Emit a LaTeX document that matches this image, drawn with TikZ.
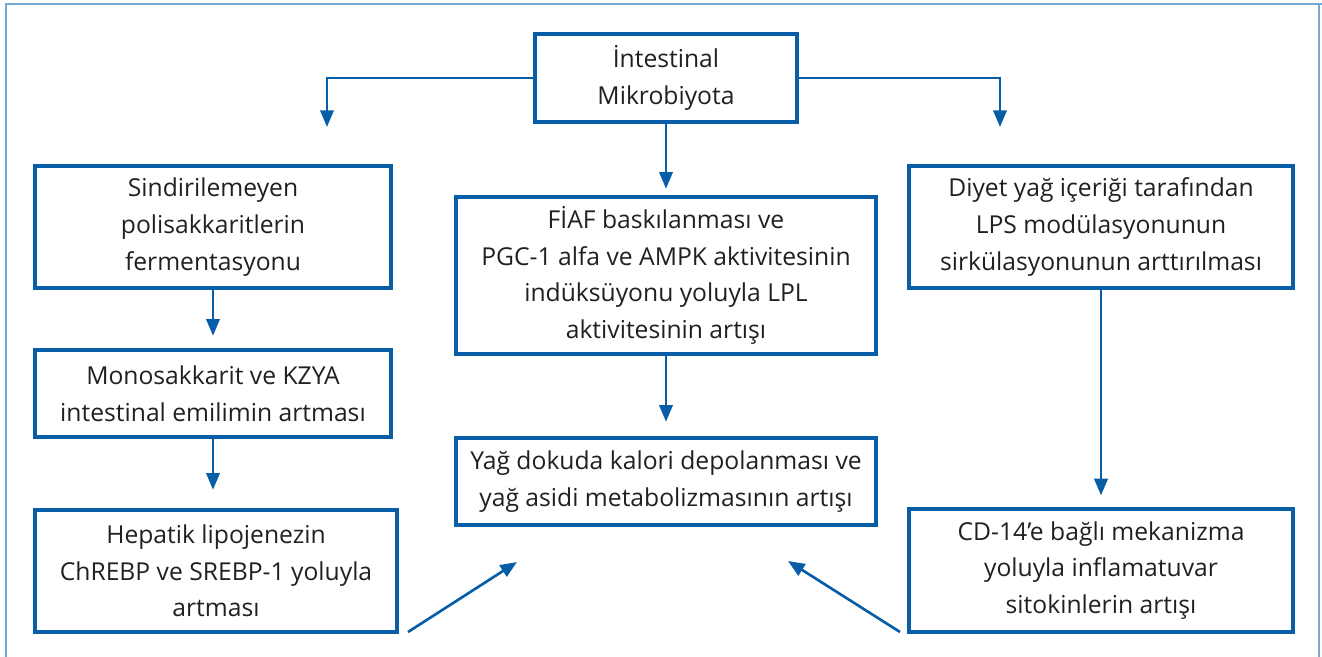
\documentclass[tikz,border=0pt]{standalone}
\usepackage{fontspec}
\setmainfont{Open Sans}
\usetikzlibrary{arrows.meta}
\definecolor{mainblue}{RGB}{8,94,166}
\definecolor{frameblue}{RGB}{120,168,214}
\definecolor{txt}{RGB}{35,31,32}
\begin{document}
\begin{tikzpicture}[x=0.75pt,y=-0.75pt,
  box/.style={draw=mainblue,line width=2.4pt,align=center,text=txt,
    font=\fontsize{18.5}{27.5}\selectfont,inner sep=0pt},
  conn/.style={draw=mainblue,line width=2pt,-{Triangle[length=12.5pt,width=10pt]}}]
\useasboundingbox (0,0) rectangle (1322,657);
% frame
\draw[frameblue,line width=1.2pt] (6,657) -- (6,4) -- (1322,4);
\draw[frameblue,line width=1.2pt] (1319,4) -- (1319,657);
% boxes
\node[box,minimum width=196.5pt,minimum height=66pt] (top) at (666,78) {İntestinal\\Mikrobiyota};
\node[box,minimum width=267pt,minimum height=91.5pt] (l1) at (213,227) {Sindirilemeyen\\polisakkaritlerin\\fermentasyonu};
\node[box,minimum width=267pt,minimum height=65.25pt] (l2) at (213,393.5) {Monosakkarit ve KZYA\\intestinal emilimin artması};
\node[box,minimum width=271.5pt,minimum height=91.5pt] (l3) at (216,571) {Hepatik lipojenezin\\ChREBP ve SREBP-1 yoluyla\\artması};
\node[box,minimum width=315pt,minimum height=117.75pt] (m1) at (666,275.5) {FİAF baskılanması ve\\PGC-1 alfa ve AMPK aktivitesinin\\indüksüyonu yoluyla LPL\\aktivitesinin artışı};
\node[box,minimum width=315pt,minimum height=65.25pt] (m2) at (666,481.5) {Yağ dokuda kalori depolanması ve\\yağ asidi metabolizmasının artışı};
\node[box,minimum width=288pt,minimum height=91.5pt] (r1) at (1101,227) {Diyet yağ içeriği tarafından\\LPS modülasyonunun\\sirkülasyonunun arttırılması};
\node[box,minimum width=288pt,minimum height=92.25pt] (r2) at (1101,570.5) {CD-14’e bağlı mekanizma\\yoluyla inflamatuvar\\sitokinlerin artışı};
% free ends
\coordinate (tl) at (327,127);
\coordinate (tr) at (1000,127);
\coordinate (dls) at (408,632);
\coordinate (dle) at (517,562);
\coordinate (drs) at (900,632);
\coordinate (dre) at (788,561);
% connectors
\draw[conn] (top.west) -| (tl);
\draw[conn] (top.east) -| (tr);
\draw[conn,shorten >=5pt] (top.south) -- (m1.north);
\draw[conn,shorten >=9.5pt] (l1.south) -- (l2.north);
\draw[conn,shorten >=14pt] (l2.south) -- (l2.south |- l3.north);
\draw[conn,shorten >=11pt] (m1.south) -- (m2.north);
\draw[conn,shorten >=9pt] (r1.south) -- (r2.north);
\draw[conn] (dls) -- (dle);
\draw[conn] (drs) -- (dre);
\end{tikzpicture}
\end{document}
